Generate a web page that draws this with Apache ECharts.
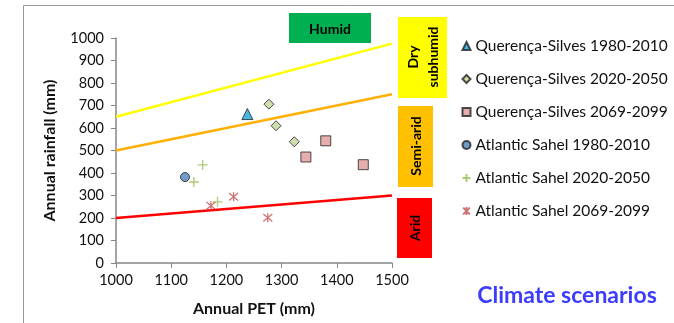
<!DOCTYPE html>
<html>
<head>
<meta charset="utf-8">
<script src="https://cdn.jsdelivr.net/npm/echarts@6/dist/echarts.min.js"></script>
<style>
  html, body { margin: 0; height: 100%; background: #fff; }
  #chart { width: 674px; height: 323px; }
</style>
</head>
<body>
<div id="chart"></div>
<script>
  // observed scenarios: [PET, rainfall]
  const qs1980 = [[1238, 662]];
  const qs2020 = [[1277, 706], [1290, 610], [1323, 539]];
  const qs2069 = [[1344, 471], [1380, 543], [1448, 437]];
  const as1980 = [[1125, 382]];
  const as2020 = [[1157, 436], [1141, 360], [1184, 272]];
  const as2069 = [[1172, 254], [1213, 294], [1275, 201]];

  // aridity thresholds (P / PET)
  const petRange = [1000, 1500];
  const humidLine = [650, 975];
  const semiAridLine = [500, 750];
  const aridLine = [200, 300];

  const xTicks = { min: 1000, max: 1500, step: 100 };
  const yTicks = { min: 0, max: 1000, step: 100 };

  const font = 'Lato, "Open Sans", sans-serif';
  const asterisk = 'path://M0,0L10,10M10,0L0,10M5,-1L5,11';
  const plus = 'path://M5,0L5,10M0,5L10,5';

  const scatters = [
    { name: 'Querença-Silves 1980-2010', data: qs1980, symbol: 'triangle', symbolSize: 11,
      itemStyle: { color: '#1aa3dc', borderColor: '#222', borderWidth: 1 } },
    { name: 'Querença-Silves 2020-2050', data: qs2020, symbol: 'diamond', symbolSize: 10,
      itemStyle: { color: '#c3d69b', borderColor: '#222', borderWidth: 1 } },
    { name: 'Querença-Silves 2069-2099', data: qs2069, symbol: 'rect', symbolSize: 10,
      itemStyle: { color: '#de9a9a', borderColor: '#222', borderWidth: 1 } },
    { name: 'Atlantic Sahel 1980-2010', data: as1980, symbol: 'circle', symbolSize: 9,
      itemStyle: { color: '#4f81bd', borderColor: '#222', borderWidth: 1 } },
    { name: 'Atlantic Sahel 2020-2050', data: as2020, symbol: plus, symbolSize: 10,
      itemStyle: { color: 'none', borderColor: '#9bbb59', borderWidth: 1.3 } },
    { name: 'Atlantic Sahel 2069-2099', data: as2069, symbol: asterisk, symbolSize: 9,
      itemStyle: { color: 'none', borderColor: '#c0504d', borderWidth: 1.3 } }
  ];

  const lineOf = (vals, color) => ({
    type: 'line', silent: true, symbol: 'none',
    data: petRange.map((p, i) => [p, vals[i]]),
    lineStyle: { color: color, width: 2.5 }, z: 1
  });

  const chart = echarts.init(document.getElementById('chart'), null, { renderer: 'canvas' });

  const boxText = { fontSize: 14, fontWeight: 'bold', fill: '#000', fontFamily: font,
    align: 'center', verticalAlign: 'middle' };

  const option = {
    animation: false,
    textStyle: { fontFamily: font },
    grid: { left: 116, right: 282, top: 38, bottom: 60 },
    legend: {
      orient: 'vertical', left: 455, top: 33, itemGap: 17,
      itemWidth: 8, itemHeight: 8,
      textStyle: { fontSize: 15.5, color: '#111', fontFamily: font },
      data: scatters.map(s => s.name)
    },
    xAxis: {
      type: 'value', min: xTicks.min, max: xTicks.max, interval: xTicks.step,
      name: 'Annual PET (mm)', nameLocation: 'middle', nameGap: 38,
      nameTextStyle: { fontSize: 16, fontWeight: 'bold', color: '#111' },
      axisLine: { lineStyle: { color: '#868686', width: 1.5 } },
      axisTick: { length: 5, lineStyle: { color: '#868686' } },
      axisLabel: { fontSize: 14.5, color: '#111', margin: 10, formatter: v => String(v) },
      splitLine: { show: false }
    },
    yAxis: {
      type: 'value', min: yTicks.min, max: yTicks.max, interval: yTicks.step,
      name: 'Annual rainfall (mm)', nameLocation: 'middle', nameGap: 58,
      nameTextStyle: { fontSize: 16, fontWeight: 'bold', color: '#111' },
      axisLine: { show: true, lineStyle: { color: '#868686', width: 1.5 } },
      axisTick: { show: true, length: 5, lineStyle: { color: '#868686' } },
      axisLabel: { fontSize: 14.5, color: '#111', margin: 12, formatter: v => String(v) },
      splitLine: { show: false }
    },
    series: [
      lineOf(humidLine, '#ffff00'),
      lineOf(semiAridLine, '#ffb000'),
      lineOf(aridLine, '#ff0000'),
      ...scatters.map(s => Object.assign({ type: 'scatter', z: 3 }, s))
    ],
    graphic: [
      { type: 'rect', left: 21, top: 3, shape: { width: 700, height: 400 },
        style: { fill: 'none', stroke: '#999', lineWidth: 1 }, z: -1 },
      { type: 'rect', left: 289, top: 13, shape: { width: 82, height: 30 }, style: { fill: '#00b050' } },
      { type: 'text', x: 330, y: 29, style: Object.assign({ text: 'Humid' }, boxText) },
      { type: 'rect', left: 398, top: 17, shape: { width: 49, height: 81 }, style: { fill: '#ffff00' } },
      { type: 'text', x: 423, y: 57, rotation: Math.PI / 2,
        style: Object.assign({ text: 'Dry\nsubhumid', lineHeight: 20 }, boxText) },
      { type: 'rect', left: 398, top: 106, shape: { width: 35, height: 81 }, style: { fill: '#ffc000' } },
      { type: 'text', x: 416, y: 146, rotation: Math.PI / 2,
        style: Object.assign({ text: 'Semi-arid' }, boxText) },
      { type: 'rect', left: 397, top: 198, shape: { width: 35, height: 60 }, style: { fill: '#ff0000' } },
      { type: 'text', x: 415, y: 228, rotation: Math.PI / 2,
        style: Object.assign({ text: 'Arid' }, boxText) },
      { type: 'text', x: 567, y: 296,
        style: { text: 'Climate scenarios', fontSize: 23, fontWeight: 'bold', fill: '#3c3cff', fontFamily: font, align: 'center', verticalAlign: 'middle' } }
    ]
  };

  chart.setOption(option);
</script>
</body>
</html>
